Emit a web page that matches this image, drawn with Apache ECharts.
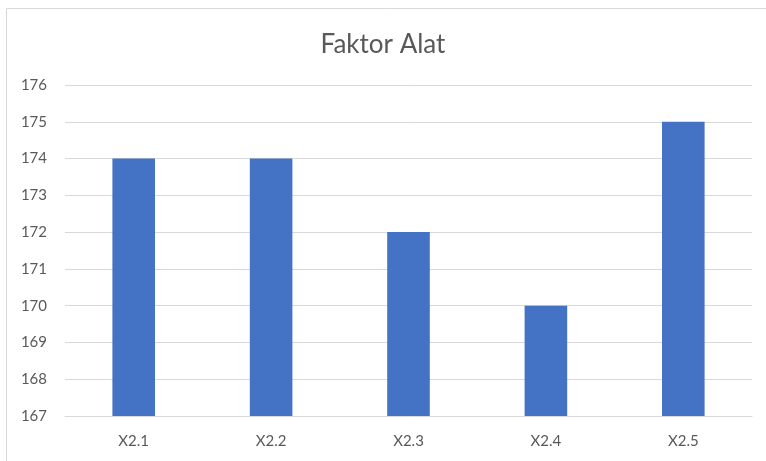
<!DOCTYPE html>
<html><head><meta charset="utf-8">
<script src="https://cdn.jsdelivr.net/npm/echarts@6/dist/echarts.min.js"></script>
<style>html,body{margin:0;padding:0;background:#fff}#c{width:766px;height:461px}</style>
</head><body><div id="c"></div>
<script>
const categories = ['X2.1','X2.2','X2.3','X2.4','X2.5'];
const values = [174, 174, 172, 170, 175];
const yTicks = [167,168,169,170,171,172,173,174,175,176];
const titleText = 'Faktor Alat';

const chart = echarts.init(document.getElementById('c'), null, {renderer:'canvas'});
chart.setOption({
  animation:false,
  backgroundColor:'#fff',
  title:{text:titleText,left:'center',top:27,textStyle:{fontFamily:'Lato',fontSize:26,fontWeight:'normal',color:'#595959'}},
  graphic:[{type:'rect',shape:{x:6.5,y:8.5,width:900,height:900},style:{fill:'none',stroke:'#d9d9d9',lineWidth:1},silent:true}],
  grid:{left:65,right:14,top:85,bottom:45},
  xAxis:{type:'category',data:categories,
    axisLine:{lineStyle:{color:'#d9d9d9',width:1}},axisTick:{show:false},
    axisLabel:{color:'#595959',fontFamily:'Lato',fontSize:15,margin:18}},
  yAxis:{type:'value',min:yTicks[0],max:yTicks[yTicks.length-1],interval:1,
    axisLine:{show:false},axisTick:{show:false},
    splitLine:{lineStyle:{color:'#d9d9d9',width:1}},
    axisLabel:{color:'#595959',fontFamily:'Lato',fontSize:15,margin:18}},
  series:[{type:'bar',data:values,barWidth:'31%',itemStyle:{color:'#4472C4'}}]
});
</script></body></html>
